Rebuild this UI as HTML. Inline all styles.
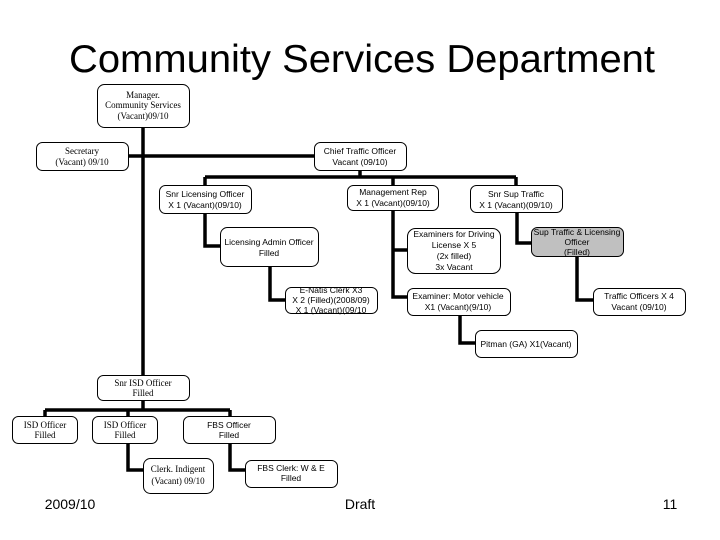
<!DOCTYPE html>
<html><head><meta charset="utf-8"><style>
html,body{margin:0;padding:0;background:#fff;}
svg{display:block;}
text{font-family:"Liberation Sans",sans-serif;font-size:8.5px;fill:#000;text-anchor:middle;}
.s{font-family:"Liberation Serif",serif;font-size:9px;}
rect{fill:#fff;stroke:#000;stroke-width:1;}
.l{stroke:#000;stroke-width:3.5;fill:none;}
</style></head><body>
<svg width="720" height="540" viewBox="0 0 720 540">
<text x="362" y="72" style="font-size:39px" textLength="586" lengthAdjust="spacingAndGlyphs">Community Services Department</text>

<!-- connectors -->
<path class="l" d="M143 127V375 M128 156H314 M360 170V177 M205 177H516 M205 177V185 M393 177V185 M516 177V185
M205 213V246H220 M270 266V300H285
M393 210V297H407 M393 250H407 M460 315V343H475
M517 212V243H531 M577 256V300H593
M45 410H230 M143 400V410 M45 410V416 M128 410V416 M230 410V416
M128 443V470H143 M230 443V470H245"/>

<!-- boxes -->
<rect x="97.5" y="84.5" width="92" height="43" rx="7"/>
<text class="s" x="143" y="98">Manager.</text>
<text class="s" x="143" y="108">Community Services</text>
<text class="s" x="143" y="119">(Vacant)09/10</text>

<rect x="36.5" y="142.5" width="92" height="28" rx="6"/>
<text class="s" x="82" y="154">Secretary</text>
<text class="s" x="82" y="165">(Vacant) 09/10</text>

<rect x="314.5" y="142.5" width="92" height="28" rx="6"/>
<text x="360" y="154">Chief Traffic Officer</text>
<text x="360" y="165">Vacant (09/10)</text>

<rect x="159.5" y="185.5" width="92" height="28" rx="6"/>
<text x="205" y="197">Snr Licensing Officer</text>
<text x="205" y="208">X 1 (Vacant)(09/10)</text>

<rect x="347.5" y="185.5" width="91" height="25" rx="6"/>
<text x="393" y="195">Management Rep</text>
<text x="393" y="206">X 1 (Vacant)(09/10)</text>

<rect x="470.5" y="185.5" width="92" height="27" rx="6"/>
<text x="516" y="197">Snr Sup Traffic</text>
<text x="516" y="208">X 1 (Vacant)(09/10)</text>

<rect x="220.5" y="227.5" width="98" height="39" rx="7"/>
<text x="269" y="245">Licensing Admin Officer</text>
<text x="269" y="256">Filled</text>

<rect x="407.5" y="228.5" width="93" height="45" rx="8"/>
<text x="454" y="237">Examiners for Driving</text>
<text x="454" y="248">License X 5</text>
<text x="454" y="259">(2x filled)</text>
<text x="454" y="270">3x Vacant</text>

<rect x="531.5" y="227.5" width="92" height="29" rx="6" style="fill:#c0c0c0"/>
<text x="577" y="235">Sup Traffic &amp; Licensing</text>
<text x="577" y="245">Officer</text>
<text x="577" y="255">(Filled)</text>

<rect x="285.5" y="287.5" width="92" height="26" rx="6"/>
<text x="331" y="293">E-Natis Clerk X3</text>
<text x="331" y="303">X 2 (Filled)(2008/09)</text>
<text x="331" y="313">X 1 (Vacant)(09/10</text>

<rect x="407.5" y="288.5" width="103" height="27" rx="6"/>
<text x="458" y="299">Examiner: Motor vehicle</text>
<text x="458" y="310">X1 (Vacant)(9/10)</text>

<rect x="593.5" y="288.5" width="92" height="27" rx="6"/>
<text x="639" y="299">Traffic Officers X 4</text>
<text x="639" y="310">Vacant (09/10)</text>

<rect x="475.5" y="330.5" width="102" height="27" rx="6"/>
<text x="526" y="347">Pitman (GA) X1(Vacant)</text>

<rect x="97.5" y="375.5" width="92" height="25" rx="6"/>
<text class="s" x="143" y="386">Snr ISD Officer</text>
<text class="s" x="143" y="396">Filled</text>

<rect x="12.5" y="416.5" width="65" height="27" rx="6"/>
<text class="s" x="45" y="428">ISD Officer</text>
<text class="s" x="45" y="438">Filled</text>

<rect x="92.5" y="416.5" width="65" height="27" rx="6"/>
<text class="s" x="125" y="428">ISD Officer</text>
<text class="s" x="125" y="438">Filled</text>

<rect x="183.5" y="416.5" width="92" height="27" rx="6"/>
<text x="229" y="428">FBS Officer</text>
<text x="229" y="438">Filled</text>

<rect x="143.5" y="458.5" width="70" height="35" rx="7"/>
<text class="s" x="178" y="472">Clerk. Indigent</text>
<text class="s" x="178" y="484">(Vacant) 09/10</text>

<rect x="245.5" y="460.5" width="92" height="27" rx="6"/>
<text x="291" y="471">FBS Clerk: W &amp; E</text>
<text x="291" y="481">Filled</text>

<text x="70" y="509" style="font-size:14px">2009/10</text>
<text x="360" y="509" style="font-size:14px">Draft</text>
<text x="670" y="509" style="font-size:14px">11</text>
</svg>
</body></html>
